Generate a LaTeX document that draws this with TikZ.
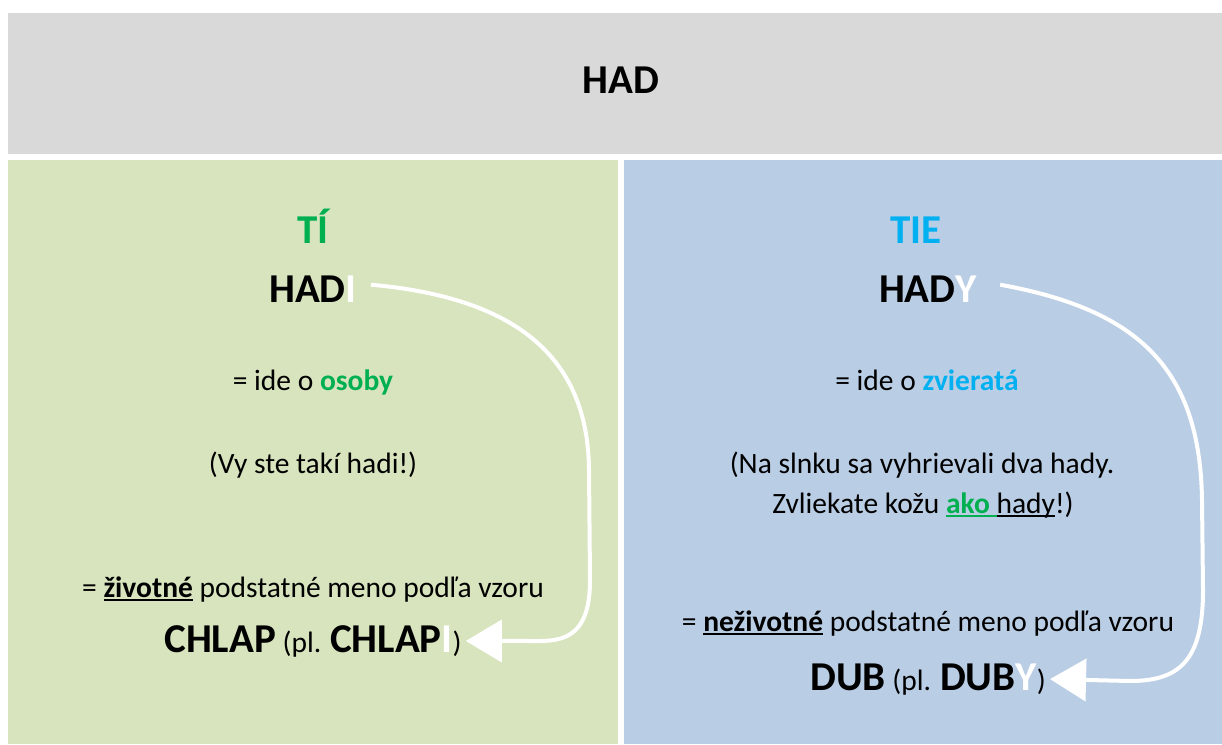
\documentclass[tikz,border=0pt]{standalone}
\usepackage{fontspec}
\setmainfont{Carlito}
\usepackage{tikz}
\usetikzlibrary{arrows.meta}
\definecolor{hadgray}{HTML}{D9D9D9}
\definecolor{tigreen}{HTML}{D7E4BD}
\definecolor{tieblue}{HTML}{B9CDE5}
\definecolor{osgreen}{HTML}{00B050}
\definecolor{zvblue}{HTML}{00B0F0}
\newsavebox\podbox
\newcommand{\podc}[1]{\sbox\podbox{#1}\rlap{\rule[-3.8pt]{\wd\podbox}{1.8pt}}\usebox\podbox}
\newcommand{\vzor}[1]{{\fontsize{41}{48}\selectfont\bfseries #1}}
\tikzstyle{body}=[
   font=\fontsize{29.5}{40}\selectfont,
   inner sep=0pt,
   anchor=base
]
\tikzstyle{title}=[
   font=\fontsize{41}{48}\selectfont\bfseries,
   inner sep=0pt,
   anchor=base
]
\tikzstyle{turn}=[
   draw=white,
   line width=4pt,
   -{Triangle[width=42pt,length=36pt]}
]

\begin{document}
\begin{tikzpicture}[x=1pt,y=-1pt]

  \useasboundingbox (0,0) rectangle (1222,744);
  \fill[hadgray] (8,13)   rectangle (1222,154);
  \fill[tigreen] (8,160)  rectangle (618,744);
  \fill[tieblue] (624,160) rectangle (1222,744);

  \node[title] (had) at (621,93) {HAD};

  % TI
  \node[title,text=osgreen] (ti)      at (313,243) {TÍ};
  \node[title]              (hadi)    at (313,302) {HAD\textcolor{white}{I}};
  \node[body]               (osoby)   at (313,390) {= ide o \textcolor{osgreen}{\textbf{osoby}}};
  \node[body]               (vy)      at (313,473) {(Vy ste takí hadi!)};
  \node[body]               (zivotne) at (313,597) {= \podc{\textbf{životné}} podstatné meno podľa vzoru};
  \node[body]               (chlap)   at (313,652) {\vzor{CHLAP} (pl. \vzor{CHLAP\textcolor{white}{I}})};

  % TIE
  \node[title,text=zvblue]  (tie)       at (916,243) {TIE};
  \node[title]              (hady)      at (928,302) {HAD\textcolor{white}{Y}};
  \node[body]               (zvierata)  at (927,390) {= ide o \textcolor{zvblue}{\textbf{zvieratá}}};
  \node[body]               (slnko)     at (922,473) {(Na slnku sa vyhrievali dva hady.};
  \node[body]               (koza)      at (923,513) {Zvliekate kožu \textcolor{osgreen}{\podc{\textbf{ako }}}\podc{hady}!)};
  \node[body]               (nezivotne) at (928,631) {= \podc{\textbf{neživotné}} podstatné meno podľa vzoru};
  \node[body]               (dub)       at (928,690) {\vzor{DUB} (pl. \vzor{DUB\textcolor{white}{Y}})};

  \draw[turn] ([xshift=14pt,yshift=4pt]hadi.east)
        .. controls (520,298) and (588,360) .. (589,470) -- (590,580)
        .. controls (590,630) and (570,641) .. (540,641) -- ([xshift=4pt]chlap.east);

  \draw[turn] ([xshift=23pt,yshift=4pt]hady.east)
        .. controls (1140,310) and (1200,370) .. (1202,500) -- (1203,590)
        .. controls (1203,660) and (1180,681) .. (1130,681) -- ([xshift=4pt]dub.east);

\end{tikzpicture}
\end{document}
